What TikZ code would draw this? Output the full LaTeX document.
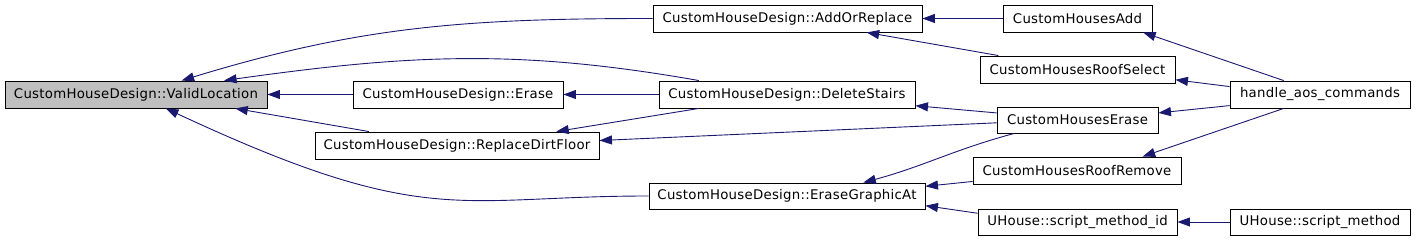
\documentclass[tikz,border=0pt]{standalone}
\usepackage{fontspec}
\setmainfont[LetterSpace=2]{DejaVu Sans}
\usepackage{tikz}
\usetikzlibrary{arrows.meta}
\definecolor{edgeblue}{HTML}{191970}
\definecolor{selgrey}{HTML}{BFBFBF}

\begin{document}
\begin{tikzpicture}[x=1pt,y=1pt,
    fn/.style={draw=black,line width=0.9pt,fill=white,minimum height=27pt,
        inner sep=0pt,font=\fontsize{13.3}{15}\selectfont},
    call/.style={draw=edgeblue,line width=0.9pt,
        -{Triangle[length=12.5pt,width=9pt]}}]
    \useasboundingbox (0,0) rectangle (1416,240);

    \node[fn,fill=selgrey,minimum width=262pt] (valid) at (136,145.5) {CustomHouseDesign::ValidLocation};
    \node[fn,minimum width=210pt] (erase) at (458,145.5) {CustomHouseDesign::Erase};
    \node[fn,minimum width=284pt] (dirt) at (457,94.5) {CustomHouseDesign::ReplaceDirtFloor};
    \node[fn,minimum width=269pt] (addrep) at (787.5,221.5) {CustomHouseDesign::AddOrReplace};
    \node[fn,minimum width=256pt] (stairs) at (787,145.5) {CustomHouseDesign::DeleteStairs};
    \node[fn,minimum width=276pt,minimum height=26pt] (graphic) at (787,44) {CustomHouseDesign::EraseGraphicAt};
    \node[fn,minimum width=149pt] (cadd) at (1077.5,221.5) {CustomHousesAdd};
    \node[fn,minimum width=195pt] (roofsel) at (1077.5,170.5) {CustomHousesRoofSelect};
    \node[fn,minimum width=161pt,minimum height=26pt] (cerase) at (1077.5,120) {CustomHousesErase};
    \node[fn,minimum width=208pt] (roofrem) at (1077,69.5) {CustomHousesRoofRemove};
    \node[fn,minimum width=199pt,minimum height=26pt] (smid) at (1077.5,18) {UHouse::script\_method\_id};
    \node[fn,minimum width=180pt] (handle) at (1320,145.5) {handle\_aos\_commands};
    \node[fn,minimum width=180pt,minimum height=26pt] (smeth) at (1320,18) {UHouse::script\_method};

    \draw[call] (addrep.west) to[out=180,in=17] (valid.17);
    \draw[call] (stairs.171) to[out=170,in=8] (valid.9);
    \draw[call] (erase.west) -- (valid.east);
    \draw[call] (dirt.171) -- (valid.-8);
    \draw[call] (graphic.west) to[out=180,in=-25,in looseness=1.5] (valid.-25);

    \draw[call] (stairs.west) -- (erase.east);
    \draw[call] (stairs.189) -- (dirt.8);

    \draw[call] (cadd.west) -- (addrep.east);
    \draw[call] (roofsel.170) -- (addrep.-10);
    \draw[call] (cerase.175) -- (stairs.-5.5);
    \draw[call] (cerase.182) -- (dirt.2);
    \draw[call] (cerase.192) to[out=195,in=15] (graphic.10.5);
    \draw[call] (roofrem.186) -- (graphic.4.5);
    \draw[call] (smid.175) -- (graphic.-4.5);

    \draw[call] (handle.159) -- (cadd.-12);
    \draw[call] (handle.175) -- (roofsel.-6);
    \draw[call] (handle.187) -- (cerase.5);
    \draw[call] (handle.201) -- (roofrem.12);
    \draw[call] (smeth.west) -- (smid.east);
\end{tikzpicture}
\end{document}
